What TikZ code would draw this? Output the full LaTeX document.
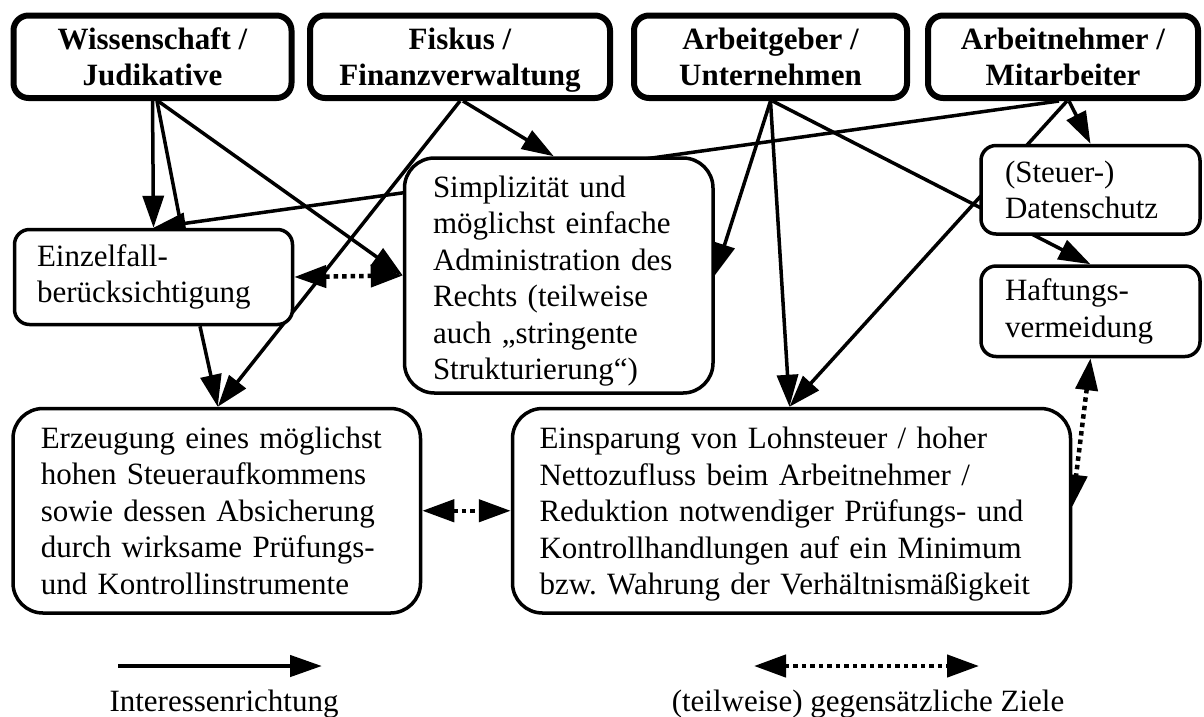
\documentclass[tikz,border=0pt]{standalone}
\usepackage{fontspec}
\setmainfont{Liberation Serif}
\frenchspacing
\usetikzlibrary{arrows.meta,backgrounds,calc}

\tikzset{
  txt/.style={font=\fontsize{31}{36.5}\selectfont},
  actor/.style={draw, line width=6pt, rounded corners=15pt, fill=white,
    font=\fontsize{31}{36.5}\selectfont\bfseries, align=center, inner sep=0pt},
  goal/.style={draw, line width=3.5pt, fill=white, txt, align=left, inner sep=0pt},
  interest/.style={line width=3.5pt, -{Triangle[length=32pt,width=21pt]}},
  conflict/.style={line width=4.5pt, dash pattern=on 4.5pt off 4pt,
    {Triangle[length=32pt,width=22pt]}-{Triangle[length=32pt,width=22pt]}},
}

\begin{document}
\begin{tikzpicture}[x=1pt, y=-1pt]
\useasboundingbox (0,0) rectangle (1204,716);

% stakeholders
\node[actor, minimum width=278pt, minimum height=82.5pt] (wiss) at (152.5,56.75) {Wissenschaft /\\Judikative};
\node[actor, minimum width=300pt, minimum height=82.5pt] (fisk) at (460,56.75) {Fiskus /\\\smash{Finanzverwaltung}};
\node[actor, minimum width=273pt, minimum height=82.5pt] (arbg) at (770.5,56.75) {Arbeitgeber /\\Unternehmen};
\node[actor, minimum width=270pt, minimum height=82.5pt] (arbn) at (1063,56.75) {Arbeitnehmer /\\Mitarbeiter};

% goals
\node[goal, rounded corners=15pt, minimum width=278pt, minimum height=95pt, text width=233pt] (einz) at (153.5,277) {Einzelfall-\\berücksichtigung};
\node[goal, rounded corners=30pt, minimum width=308.5pt, minimum height=235pt, text width=251.5pt] (simp) at (558.75,275.5) {\rule{0pt}{33pt}Simplizität und\\möglichst einfache\\Administration des\\Rechts (teilweise\\auch „stringente\\Strukturierung“)};
\node[goal, rounded corners=30pt, minimum width=407.5pt, minimum height=204.5pt, text width=352pt] (erz) at (216.75,510.75) {Erzeugung eines möglichst\\hohen Steueraufkommens\\sowie dessen Absicherung\\durch wirksame Prüfungs-\\und Kontrollinstrumente};
\node[goal, rounded corners=30pt, minimum width=558pt, minimum height=204.5pt, text width=504pt] (einsp) at (791.5,510.75) {\rule{0pt}{29pt}Einsparung von Lohnsteuer / hoher\\Nettozufluss beim Arbeitnehmer /\\Reduktion notwendiger Prüfungs- und\\Kontrollhandlungen auf ein Minimum\\bzw. Wahrung der Verhältnismäßigkeit};
\node[goal, rounded corners=15pt, minimum width=219pt, minimum height=88.5pt, text width=171pt] (daten) at (1090.5,189.75) {(Steuer-)\\Datenschutz};
\node[goal, rounded corners=15pt, minimum width=219pt, minimum height=90.5pt, text width=171pt] (haft) at (1090.5,311.25) {Haftungs-\\vermeidung};

% connectors run behind the boxes
\begin{scope}[on background layer]
  \draw[interest] (wiss.south) -- (einz.north);
  \draw[line width=3.5pt] ([xshift=4.5pt]wiss.south) -- ([xshift=28pt]einz.north);
  \draw[interest] ([xshift=5.5pt]wiss.south) -- (simp.west);

  \draw[interest] ([xshift=3pt]fisk.south) -- ([xshift=-5pt]simp.north);
  \draw[interest] (fisk.south) -- ([xshift=1pt]erz.north);
  \draw[interest] ([xshift=46.5pt]einz.south) -- ([xshift=1pt]erz.north);

  \draw[interest] (arbg.south) -- (simp.east);
  \draw[interest] (arbg.south) -- ([xshift=-2pt]einsp.north);
  \draw[interest] ([xshift=2pt]arbg.south) -- (haft.north);

  \draw[interest] ([xshift=6pt]arbn.south) -- (daten.north);
  \draw[interest] ([xshift=4pt]arbn.south) -- ([xshift=-2pt]einsp.north);
  \draw[interest] ([xshift=-4pt]arbn.south) -- (einz.north);

  \draw[conflict] (einz.east) -- (simp.west);
  \draw[conflict] (erz.east) -- (einsp.west);
  \draw[conflict] (haft.south) -- ([yshift=4pt]einsp.east);
\end{scope}

% legend
\coordinate (lgA) at (118,666);
\coordinate (lgB) at (322,666);
\coordinate (lgC) at (754,666);
\coordinate (lgD) at (979,666);
\draw[line width=4.5pt, -{Triangle[length=32pt,width=21pt]}] (lgA) -- (lgB);
\draw[conflict] (lgC) -- (lgD);
\node[txt, anchor=base] (lgAtext) at (224,711) {Interessenrichtung};
\node[txt, anchor=base] (lgCtext) at (868,711) {(teilweise) gegensätzliche Ziele};
\end{tikzpicture}
\end{document}
